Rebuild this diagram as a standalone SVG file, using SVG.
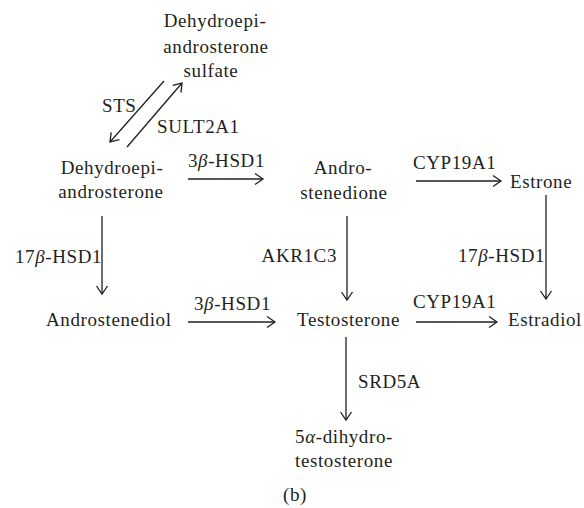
<svg xmlns="http://www.w3.org/2000/svg" width="584" height="508" viewBox="0 0 584 508">
<style>
text{font-family:"Liberation Serif","Times New Roman",serif;font-size:19px;fill:#231f20;letter-spacing:0.6px}
.m{text-anchor:middle}
.e{text-anchor:end}
.i{font-style:italic}
.c line{stroke:#231f20;stroke-width:1.3;marker-end:url(#a)}
</style>
<defs>
<marker id="a" markerUnits="userSpaceOnUse" markerWidth="14" markerHeight="14" refX="10" refY="7" orient="auto">
<path d="M2,1.5 L10,7 L2,12.5" fill="none" stroke="#231f20" stroke-width="1.3"/>
</marker>
</defs>
<rect width="584" height="508" fill="#fff"/>
<g class="c" id="connectors">
<line x1="164" y1="81" x2="110" y2="142"/>
<line x1="127" y1="147" x2="182" y2="83"/>
<line x1="188" y1="179" x2="263" y2="179"/>
<line x1="416" y1="181" x2="501" y2="181"/>
<line x1="102" y1="216" x2="102" y2="294"/>
<line x1="188" y1="322" x2="275" y2="322"/>
<line x1="347" y1="216" x2="347" y2="300"/>
<line x1="546" y1="195" x2="546" y2="299"/>
<line x1="416" y1="322" x2="497" y2="322"/>
<line x1="346" y1="337" x2="346" y2="420"/>
</g>
<g id="labels">
<text x="102" y="112">STS</text>
<text x="157" y="133">SULT2A1</text>
<text x="188" y="167">3<tspan class="i">β</tspan>-HSD1</text>
<text x="413" y="169">CYP19A1</text>
<text x="15" y="263">17<tspan class="i">β</tspan>-HSD1</text>
<text x="337" y="262" class="e">AKR1C3</text>
<text x="458" y="262">17<tspan class="i">β</tspan>-HSD1</text>
<text x="194" y="310">3<tspan class="i">β</tspan>-HSD1</text>
<text x="413" y="308">CYP19A1</text>
<text x="358" y="388">SRD5A</text>
</g>
<g id="dheas"><text class="m" x="215" y="27">Dehydroepi-</text><text class="m" x="216" y="53">androsterone</text><text class="m" x="211" y="77">sulfate</text></g>
<g id="dhea"><text class="m" x="112" y="174">Dehydroepi-</text><text class="m" x="111" y="198">androsterone</text></g>
<g id="androstenedione"><text class="m" x="343" y="174">Andro-</text><text class="m" x="344" y="199">stenedione</text></g>
<g id="estrone"><text x="510" y="188">Estrone</text></g>
<g id="androstenediol"><text x="46" y="326">Androstenediol</text></g>
<g id="testosterone"><text x="297" y="326">Testosterone</text></g>
<g id="estradiol"><text x="508" y="326">Estradiol</text></g>
<g id="dht"><text class="m" x="344" y="443">5<tspan class="i">α</tspan>-dihydro-</text><text class="m" x="344" y="467">testosterone</text></g>
<g id="caption"><text class="m" x="295" y="501">(b)</text></g>
</svg>
